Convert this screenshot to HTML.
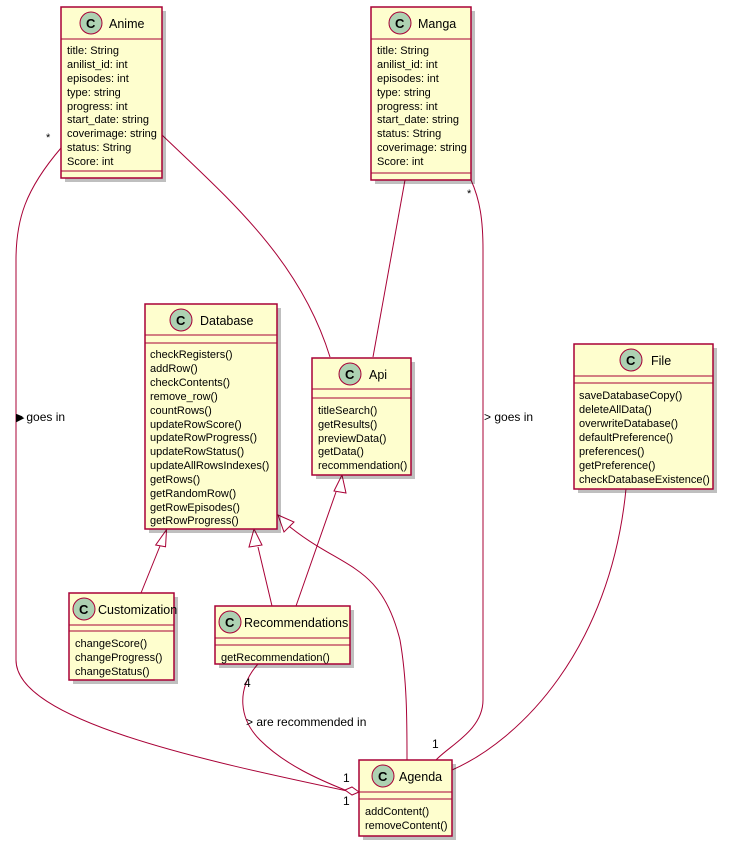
<!DOCTYPE html>
<html><head><meta charset="utf-8"><style>
html,body{margin:0;padding:0;background:#fff;}
svg text{font-family:"Liberation Sans",sans-serif;fill:#000;}
.m{font-size:11px;}
.n{font-size:12.5px;}
.b{fill:#FEFECE;stroke:#A80036;stroke-width:1.5;}
.s{fill:#000;opacity:0.25;}
.l{fill:none;stroke:#A80036;stroke-width:1;}
.c{fill:#ADD1B2;stroke:#A80036;stroke-width:1;}
.ct{font-size:13px;font-weight:bold;}
</style></head><body>
<svg width="729" height="848" viewBox="0 0 729 848" xmlns="http://www.w3.org/2000/svg">
<!-- edges -->
<path class="l" d="M162,135 C230,200 300,260 330,357"/>
<path class="l" d="M405,180 L373,357"/>
<path class="l" d="M61,148 C25,190 16,220 16,260 L16,660 C16,720 200,760 352,792"/>
<path class="l" d="M471,180 C480,200 483,220 483,250 L483,700 C483,730 450,745 436,760"/>
<path class="l" d="M626,489 C610,650 520,740 452,770"/>
<path class="l" d="M284,522 C340,570 380,560 400,640 C407,680 407,720 407,760"/>
<polygon points="278,515 294,522 284,532" fill="#fff" stroke="#A80036"/>
<path class="l" d="M160,546 L141,593"/>
<polygon points="165,529 157,546 167,546" fill="#fff" stroke="#A80036" transform="rotate(10 162 538)"/>
<path class="l" d="M258,547 L272,606"/>
<polygon points="254,529 249,547 262,545" fill="#fff" stroke="#A80036"/>
<path class="l" d="M336,492 L296,606"/>
<polygon points="342,475 334,491 346,493" fill="#fff" stroke="#A80036"/>
<path class="l" d="M258,664 C235,690 240,720 260,740 C285,765 320,780 345,790"/>
<polygon points="359,792 352,787 345,790 352,795" fill="#fff" stroke="#A80036"/>
<!-- edge labels -->
<text class="m" x="46" y="141">*</text>
<text class="m" x="467" y="197">*</text>
<text class="m" x="16" y="421">&#x25B6;&#xFE0E;</text>
<text class="m" x="16" y="421" style="font-size:12px">&gt; goes in</text>
<text class="m" x="484" y="421" style="font-size:12px">&gt; goes in</text>
<text class="m" x="244" y="687" style="font-size:12px">4</text>
<text class="m" x="246" y="726" style="font-size:12px">&gt; are recommended in</text>
<text class="m" x="343" y="782" style="font-size:12px">1</text>
<text class="m" x="343" y="805" style="font-size:12px">1</text>
<text class="m" x="432" y="748" style="font-size:12px">1</text>

<!-- Anime -->
<rect class="s" x="65" y="11" width="101" height="171"/>
<rect class="b" x="61" y="7" width="101" height="171"/>
<line class="l" x1="61" y1="39" x2="162" y2="39" stroke-width="1.5"/>
<line class="l" x1="61" y1="171" x2="162" y2="171" stroke-width="1.5"/>
<circle class="c" cx="91" cy="23" r="11"/><text class="ct" x="86" y="28">C</text>
<text class="n" x="109" y="28">Anime</text>
<g class="m"><text x="67" y="54">title: String</text><text x="67" y="68">anilist_id: int</text><text x="67" y="82">episodes: int</text><text x="67" y="96">type: string</text><text x="67" y="110">progress: int</text><text x="67" y="123">start_date: string</text><text x="67" y="137">coverimage: string</text><text x="67" y="151">status: String</text><text x="67" y="165">Score: int</text></g>

<!-- Manga -->
<rect class="s" x="375" y="11" width="100" height="173"/>
<rect class="b" x="371" y="7" width="100" height="173"/>
<line class="l" x1="371" y1="39" x2="471" y2="39" stroke-width="1.5"/>
<line class="l" x1="371" y1="173" x2="471" y2="173" stroke-width="1.5"/>
<circle class="c" cx="400" cy="23" r="11"/><text class="ct" x="395" y="28">C</text>
<text class="n" x="418" y="28">Manga</text>
<g class="m"><text x="377" y="54">title: String</text><text x="377" y="68">anilist_id: int</text><text x="377" y="82">episodes: int</text><text x="377" y="96">type: string</text><text x="377" y="110">progress: int</text><text x="377" y="123">start_date: string</text><text x="377" y="137">status: String</text><text x="377" y="151">coverimage: string</text><text x="377" y="165">Score: int</text></g>

<!-- Database -->
<rect class="s" x="149" y="308" width="132" height="225"/>
<rect class="b" x="145" y="304" width="132" height="225"/>
<line class="l" x1="145" y1="335" x2="277" y2="335" stroke-width="1.5"/>
<line class="l" x1="145" y1="343" x2="277" y2="343" stroke-width="1.5"/>
<circle class="c" cx="181" cy="320" r="11"/><text class="ct" x="176" y="325">C</text>
<text class="n" x="200" y="325">Database</text>
<g class="m"><text x="150" y="358">checkRegisters()</text><text x="150" y="372">addRow()</text><text x="150" y="386">checkContents()</text><text x="150" y="400">remove_row()</text><text x="150" y="414">countRows()</text><text x="150" y="428">updateRowScore()</text><text x="150" y="441">updateRowProgress()</text><text x="150" y="455">updateRowStatus()</text><text x="150" y="469">updateAllRowsIndexes()</text><text x="150" y="483">getRows()</text><text x="150" y="497">getRandomRow()</text><text x="150" y="511">getRowEpisodes()</text><text x="150" y="524">getRowProgress()</text></g>

<!-- Api -->
<rect class="s" x="316" y="362" width="99" height="117"/>
<rect class="b" x="312" y="358" width="99" height="117"/>
<line class="l" x1="312" y1="389" x2="411" y2="389" stroke-width="1.5"/>
<line class="l" x1="312" y1="398" x2="411" y2="398" stroke-width="1.5"/>
<circle class="c" cx="350" cy="374" r="11"/><text class="ct" x="345" y="379">C</text>
<text class="n" x="369" y="379">Api</text>
<g class="m"><text x="318" y="414">titleSearch()</text><text x="318" y="428">getResults()</text><text x="318" y="442">previewData()</text><text x="318" y="455">getData()</text><text x="318" y="469">recommendation()</text></g>

<!-- File -->
<rect class="s" x="578" y="348" width="139" height="145"/>
<rect class="b" x="574" y="344" width="139" height="145"/>
<line class="l" x1="574" y1="376" x2="713" y2="376" stroke-width="1.5"/>
<line class="l" x1="574" y1="383" x2="713" y2="383" stroke-width="1.5"/>
<circle class="c" cx="631" cy="360" r="11"/><text class="ct" x="626" y="365">C</text>
<text class="n" x="651" y="365">File</text>
<g class="m"><text x="579" y="399">saveDatabaseCopy()</text><text x="579" y="413">deleteAllData()</text><text x="579" y="427">overwriteDatabase()</text><text x="579" y="441">defaultPreference()</text><text x="579" y="455">preferences()</text><text x="579" y="469">getPreference()</text><text x="579" y="483">checkDatabaseExistence()</text></g>

<!-- Customization -->
<rect class="s" x="73" y="597" width="105" height="87"/>
<rect class="b" x="69" y="593" width="105" height="87"/>
<line class="l" x1="69" y1="625" x2="174" y2="625" stroke-width="1.5"/>
<line class="l" x1="69" y1="631" x2="174" y2="631" stroke-width="1.5"/>
<circle class="c" cx="84" cy="609" r="11"/><text class="ct" x="79" y="614">C</text>
<text class="n" x="98" y="614">Customization</text>
<g class="m"><text x="75" y="647">changeScore()</text><text x="75" y="661">changeProgress()</text><text x="75" y="675">changeStatus()</text></g>

<!-- Recommendations -->
<rect class="s" x="219" y="610" width="135" height="58"/>
<rect class="b" x="215" y="606" width="135" height="58"/>
<line class="l" x1="215" y1="638" x2="350" y2="638" stroke-width="1.5"/>
<line class="l" x1="215" y1="645" x2="350" y2="645" stroke-width="1.5"/>
<circle class="c" cx="230" cy="622" r="11"/><text class="ct" x="225" y="627">C</text>
<text class="n" x="244" y="627">Recommendations</text>
<g class="m"><text x="221" y="661">getRecommendation()</text></g>

<!-- Agenda -->
<rect class="s" x="363" y="764" width="93" height="76"/>
<rect class="b" x="359" y="760" width="93" height="76"/>
<line class="l" x1="359" y1="792" x2="452" y2="792" stroke-width="1.5"/>
<line class="l" x1="359" y1="799" x2="452" y2="799" stroke-width="1.5"/>
<circle class="c" cx="383" cy="776" r="11"/><text class="ct" x="378" y="781">C</text>
<text class="n" x="399" y="781">Agenda</text>
<g class="m"><text x="365" y="815">addContent()</text><text x="365" y="829">removeContent()</text></g>
</svg>
</body></html>
